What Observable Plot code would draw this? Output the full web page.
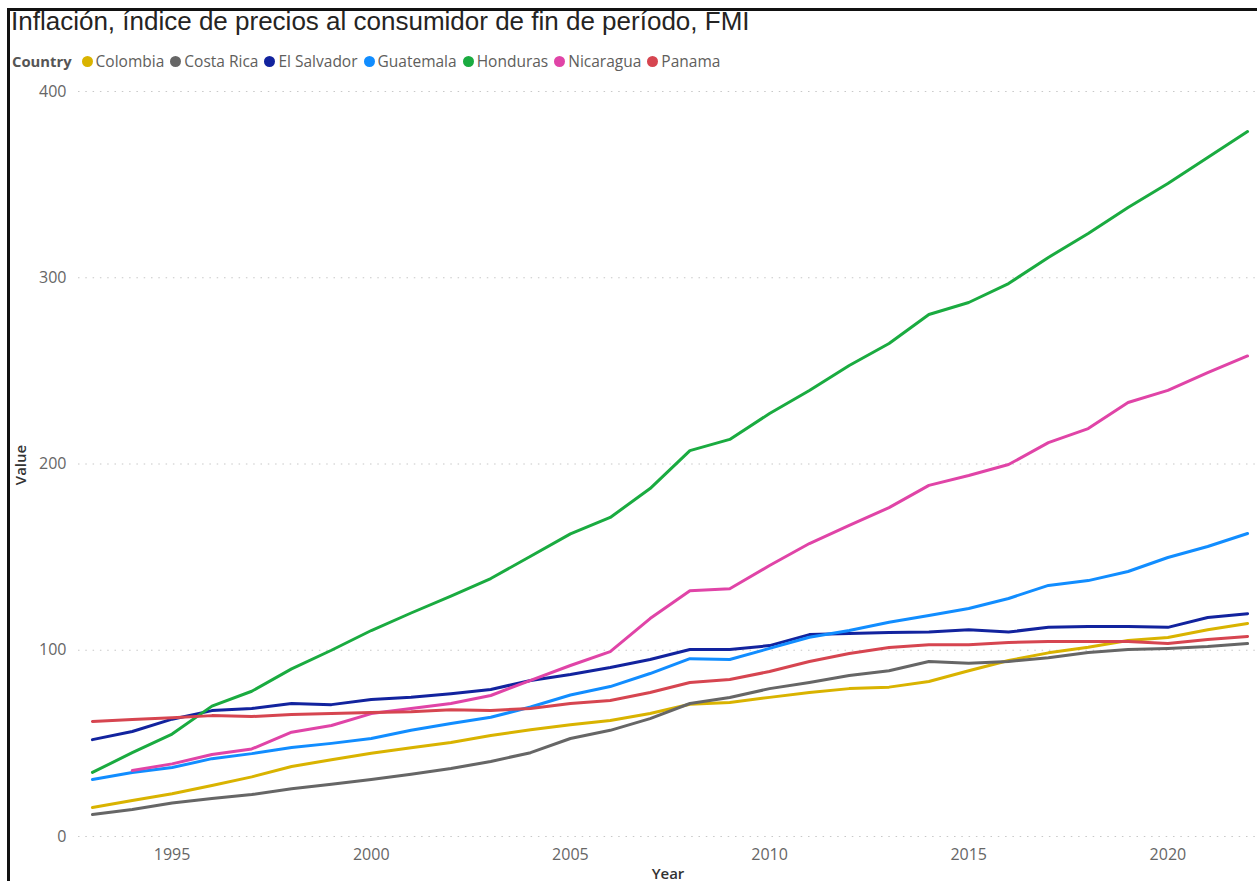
<!DOCTYPE html>
<html>
<head>
<meta charset="utf-8">
<script src="https://cdn.jsdelivr.net/npm/d3@7"></script>
<script src="https://cdn.jsdelivr.net/npm/@observablehq/plot@0.6"></script>
<style>
  html, body { margin: 0; padding: 0; background: #fff; width: 1257px; height: 881px; overflow: hidden; position: relative; }
  #frame { position: absolute; left: 7px; top: 8px; width: 1260px; height: 900px; border-top: 3px solid #111; border-left: 3px solid #111; box-sizing: border-box; }
  #title { position: absolute; left: 11px; top: 6px; font-family: "Liberation Sans Narrow", "Liberation Sans", sans-serif; font-size: 26px; line-height: 30px; color: #252423; white-space: nowrap; }
  #legend { position: absolute; left: 12px; top: 50px; height: 22px; display: flex; align-items: center; font-family: "Open Sans", sans-serif; font-size: 15.5px; color: #605E5C; white-space: nowrap; }
  #legend .hd { font-weight: bold; font-size: 14.8px; color: #555; margin-right: 10px; }
  #legend .it { display: flex; align-items: center; margin-right: 6px; }
  #legend .dot { width: 11px; height: 11px; border-radius: 50%; margin-right: 3px; display: inline-block; }
  #chart { position: absolute; left: 0; top: 70px; }
  #ylab { position: absolute; left: 20px; top: 465px; transform: translate(-50%, -50%) rotate(-90deg); font-family: "Open Sans", sans-serif; font-size: 15px; font-weight: 600; color: #333; }
  #xlab { position: absolute; left: 668px; top: 873px; transform: translate(-50%, -50%); font-family: "Open Sans", sans-serif; font-size: 15px; font-weight: 600; color: #333; }
</style>
</head>
<body>
<div id="frame"></div>
<div id="title">Inflación, índice de precios al consumidor de fin de período, FMI</div>
<div id="legend"></div>
<div id="chart"></div>
<div id="ylab">Value</div>
<div id="xlab">Year</div>
<script>
const years = [1993,1994,1995,1996,1997,1998,1999,2000,2001,2002,2003,2004,2005,2006,2007,2008,2009,2010,2011,2012,2013,2014,2015,2016,2017,2018,2019,2020,2021,2022];
const countries = ["Colombia","Costa Rica","El Salvador","Guatemala","Honduras","Nicaragua","Panama"];
const colors = ["#D9B300","#666666","#12239E","#118DFF","#1AAB40","#E044A7","#D64550"];

const colombia   = [15.6,19.3,23,27.4,32,37.6,41.2,44.7,47.7,50.5,54.2,57.3,60,62.3,66,71,72,74.7,77.3,79.4,80.2,83.2,89,94.5,98.6,101.6,105.2,106.8,111,114.4];
const costaRica  = [11.8,14.5,18,20.4,22.5,25.6,28,30.6,33.4,36.5,40.3,45,52.6,57,63.3,71.4,74.6,79.4,82.7,86.4,89,94,93,94,96,98.8,100.4,101,102,103.6];
const elSalvador = [52,56.4,63,67.6,68.7,71.4,70.8,73.6,74.8,76.7,78.9,83.8,87,90.7,95,100.4,100.4,102.5,108.4,109,109.5,109.8,111,109.8,112.3,112.8,112.8,112.3,117.6,119.6];
const guatemala  = [30.6,34.4,37,41.8,44.5,47.8,50,52.6,57,60.7,64,69.5,76,80.5,87.5,95.5,95,101,107,110.6,115,118.7,122.4,127.8,134.8,137.4,142.3,149.8,155.7,162.7];
const honduras   = [34.4,45,55,70,78,90,100,110.6,120,129,138.5,150.5,162.5,171.3,186.8,207.2,213.2,227.1,239.5,252.9,264.7,280.3,286.7,296.9,310.9,323.8,337.7,350.6,364.6,378.5];
const nicaragua  = [null,35.4,39,44,47,56,59.6,66,68.7,71.4,75.7,83.8,91.8,99.3,117,132,133,145.5,157.3,167,176.6,188.5,193.8,199.7,211.5,219,233,239.5,249,258];
const panama     = [61.8,62.8,63.8,64.9,64.4,65.5,66,66.6,67,68,67.7,68.7,71.4,73,77.3,82.7,84.3,88.6,94,98.3,101.5,103,103,104.2,104.7,104.7,104.7,103.6,105.8,107.4];

const xTicks = [1995,2000,2005,2010,2015,2020];
const yTicks = [0,100,200,300,400];

const seriesValues = [colombia, costaRica, elSalvador, guatemala, honduras, nicaragua, panama];
const rows = [];
countries.forEach((c, i) => {
  seriesValues[i].forEach((v, j) => {
    if (v != null) rows.push({country: c, year: years[j], value: v});
  });
});

// legend
const legend = document.getElementById("legend");
legend.innerHTML = '<span class="hd">Country</span>' + countries.map((c, i) =>
  `<span class="it"><span class="dot" style="background:${colors[i]}"></span>${c}</span>`).join("");

const chart = Plot.plot({
  width: 1257,
  height: 811,
  marginTop: 21,
  marginBottom: 45,
  marginLeft: 78,
  marginRight: 0,
  style: {fontFamily: "Open Sans, sans-serif", fontSize: "16px", color: "#666", background: "transparent"},
  x: {domain: [1992.65, 2022.25], label: null},
  y: {domain: [0, 400], label: null},
  color: {domain: countries, range: colors},
  marks: [
    Plot.ruleY(yTicks, {stroke: "#c8c8c8", strokeWidth: 1.2, strokeDasharray: "1.5,5.8"}),
    Plot.axisX(xTicks, {tickSize: 0, tickPadding: 12, tickFormat: d => String(d), fill: "#666", fontSize: 16, label: null}),
    Plot.axisY(yTicks, {tickSize: 0, tickPadding: 12, fill: "#666", fontSize: 16, label: null}),
    Plot.line(rows, {x: "year", y: "value", z: "country", stroke: "country", strokeWidth: 3, strokeLinejoin: "round", strokeLinecap: "round"})
  ]
});
document.getElementById("chart").appendChild(chart);
</script>
</body>
</html>
